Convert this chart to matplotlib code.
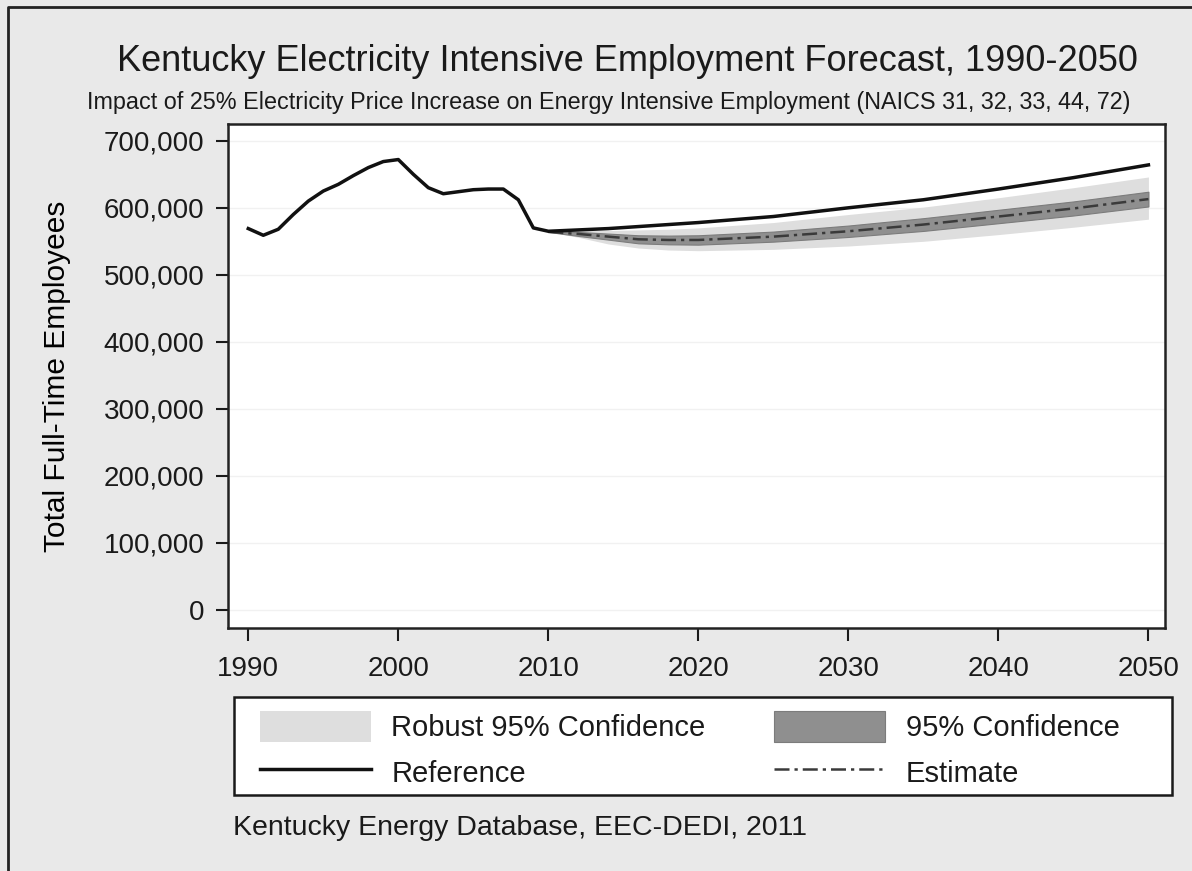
import numpy as np
import matplotlib.pyplot as plt
from matplotlib.lines import Line2D
from matplotlib.patches import Rectangle

plt.rcParams['font.family'] = ['Liberation Sans', 'DejaVu Sans']
plt.rcParams['text.color'] = '#1a1a1a'

# historical employment (reference), 1990-2009
hist_years = [1990, 1991, 1992, 1993, 1994, 1995, 1996, 1997, 1998, 1999,
              2000, 2001, 2002, 2003, 2004, 2005, 2006, 2007, 2008, 2009]
hist_ref = [569000, 559000, 568000, 590000, 610000, 625000, 635000, 648000, 660000, 669000,
            672000, 650000, 630000, 621000, 624000, 627000, 628000, 628000, 612000, 570000]

# forecast, 2010-2050
fc_years = [2010, 2012, 2014, 2016, 2018, 2020, 2025, 2030, 2035, 2040, 2045, 2050]
fc_ref = [565000, 567000, 569000, 572000, 575000, 578000, 587000, 600000, 612000, 628000, 645000, 664000]
est = [564000, 561000, 557000, 553000, 552000, 552000, 557000, 565000, 575000, 587000, 599000, 613000]
est_lo = [564000, 558000, 552500, 547000, 545500, 545000, 549500, 556500, 565500, 577000, 588500, 602000]
est_hi = [564000, 564000, 561500, 559000, 558500, 559000, 564500, 573500, 584500, 597000, 609500, 624000]
rob_lo = [564000, 556000, 546000, 540000, 537000, 536000, 538000, 543000, 550000, 560000, 571000, 583000]
rob_hi = [564000, 566000, 566000, 567000, 568000, 570000, 578000, 590000, 601000, 615000, 630000, 646000]

yticks = [0, 100000, 200000, 300000, 400000, 500000, 600000, 700000]
xticks = [1990, 2000, 2010, 2020, 2030, 2040, 2050]

fig = plt.figure(figsize=(11.92, 8.71), dpi=100, facecolor='#e9e9e9')
ax = fig.add_axes([0.1913, 0.2790, 0.786, 0.5786])
ax.set_facecolor('white')

ax.fill_between(fc_years, rob_lo, rob_hi, color='#dedede', lw=0,
                label='Robust 95% Confidence')
ax.fill_between(fc_years, est_lo, est_hi, facecolor='#8f8f8f', edgecolor='#7c7c7c', lw=0.8,
                label='95% Confidence')
ref_years = hist_years + fc_years
ref_vals = hist_ref + fc_ref
ax.plot(ref_years, ref_vals, color='#111111', lw=2.5, label='Reference', zorder=4)
ax.plot(fc_years, est, color='#3a3a3a', lw=1.8, ls=(0, (6, 2, 1.3, 2)),
        label='Estimate', zorder=3)

ax.set_xlim(1988.65, 2051.1)
ax.set_ylim(-27000, 725000)
ax.set_xticks(xticks)
ax.set_yticks(yticks)
ax.set_yticklabels([f'{v:,}' for v in yticks])
ax.grid(axis='y', color='#f1f1f1', lw=1)
ax.set_axisbelow(True)
ax.tick_params(labelsize=20, length=9, width=1.5, pad=8, colors='#1a1a1a')
ax.tick_params(axis='x', pad=11)
for sp in ax.spines.values():
    sp.set_linewidth(1.8)
    sp.set_color('#222222')
ax.set_ylabel('Total Full-Time Employees', fontsize=21.5)
ax.yaxis.set_label_coords(-0.1676, 0.5)

fig.text(0.526, 0.929, 'Kentucky Electricity Intensive Employment Forecast, 1990-2050',
         ha='center', va='center', fontsize=26)
fig.text(0.511, 0.882, 'Impact of 25% Electricity Price Increase on Energy Intensive '
         'Employment (NAICS 31, 32, 33, 44, 72)', ha='center', va='center', fontsize=16.8)

# legend box drawn separately, legend entries placed inside it
fig.patches.append(Rectangle((234 / 1192, 1 - 795 / 871), (1172 - 234) / 1192, (795 - 697) / 871,
                             transform=fig.transFigure, facecolor='white',
                             edgecolor='#1a1a1a', lw=1.8, zorder=1))
handles, labels = ax.get_legend_handles_labels()
order = [0, 2, 1, 3]
fig.legend([handles[i] for i in order], [labels[i] for i in order],
           loc='upper left', bbox_to_anchor=(260 / 1192, 1 - 711 / 871),
           ncol=2, frameon=False, fontsize=21, borderpad=0, borderaxespad=0,
           handlelength=3.8, handleheight=1.25, handletextpad=0.7,
           columnspacing=2.36, labelspacing=0.5)

fig.text(233 / 1192, 1 - 828 / 871, 'Kentucky Energy Database, EEC-DEDI, 2011',
         ha='left', va='center', fontsize=20.5)

# outer frame (left and top edges)
fig.add_artist(Line2D([8 / 1192, 8 / 1192, 1.0], [0.0, 1 - 7 / 871, 1 - 7 / 871],
                      transform=fig.transFigure, color='#222222', lw=2))

fig.savefig('out.png', dpi=100, facecolor=fig.get_facecolor())
